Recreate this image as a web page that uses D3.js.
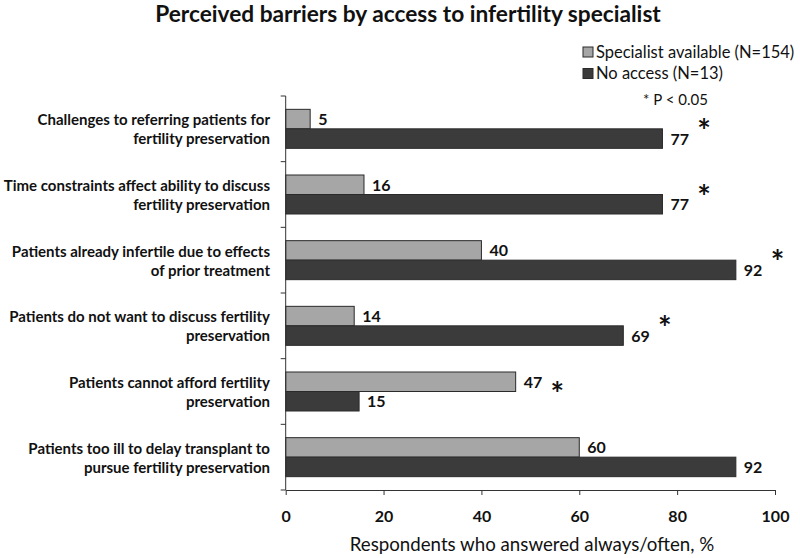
<!DOCTYPE html>
<html><head><meta charset="utf-8">
<script src="https://cdn.jsdelivr.net/npm/d3@7"></script>
<style>body{margin:0;background:#fff;} text{font-family:Lato, "Open Sans", sans-serif;}</style>
</head><body><svg id="c" width="800" height="558"></svg>
<script>
const categories = [
  ["Challenges to referring patients for", "fertility preservation"],
  ["Time constraints affect ability to discuss", "fertility preservation"],
  ["Patients already infertile due to effects", "of prior treatment"],
  ["Patients do not want to discuss fertility", "preservation"],
  ["Patients cannot afford fertility", "preservation"],
  ["Patients too ill to delay transplant to", "pursue fertility preservation"]
];
const specialistAvailable = [5, 16, 40, 14, 47, 60];
const noAccess = [77, 77, 92, 69, 15, 92];
const significant = [true, true, true, true, true, false];
const seriesNames = ["Specialist available (N=154)", "No access (N=13)"];
const xTicks = [0, 20, 40, 60, 80, 100];

(function(){
const svg = d3.select("#c");
const pl = 285.7, pr = 775, pt = 96, pb = 490;
const x = d3.scaleLinear().domain([0, 100]).range([pl, pr]);
const y = d3.scaleBand().domain(d3.range(categories.length)).range([pt, pb]).paddingInner(0).paddingOuter(0);
const colors = ["#a6a6a6", "#3b3b3b"];
const barH = 19.5;

svg.append("text").attr("x", 408).attr("y", 22).attr("text-anchor", "middle")
  .style("font-size", "22.7px").style("font-weight", "bold").attr("fill", "#111")
  .text("Perceived barriers by access to infertility specialist");

const series = [specialistAvailable, noAccess];
series.forEach((vals, si) => {
  const g = svg.append("g");
  g.selectAll("rect").data(vals).enter().append("rect")
    .attr("x", x(0))
    .attr("y", (d, i) => y(i) + y.bandwidth() / 2 - barH + si * barH)
    .attr("width", d => x(d) - x(0))
    .attr("height", barH)
    .attr("fill", colors[si]).attr("stroke", "#2a2a2a").attr("stroke-width", 1);
  g.selectAll("text").data(vals).enter().append("text")
    .attr("x", d => x(d) + 8)
    .attr("y", (d, i) => y(i) + y.bandwidth() / 2 - barH + si * barH + barH / 2 + 6)
    .style("font-size", "16px").style("font-weight", "bold").attr("fill", "#111")
    .text(d => d);
});

svg.append("g").selectAll("text").data(significant.map((s, i) => ({s, i})).filter(d => d.s)).enter()
  .append("text")
  .attr("x", d => x(Math.max(specialistAvailable[d.i], noAccess[d.i]) + 8.5))
  .attr("y", d => y(d.i) + y.bandwidth() / 2 + 14)
  .attr("text-anchor", "middle")
  .style("font-size", "32px").style("font-weight", "bold").attr("fill", "#111")
  .text("*");

const yAxis = svg.append("g").attr("transform", `translate(${pl},0)`);
yAxis.append("line").attr("x1", 0).attr("x2", 0).attr("y1", pt).attr("y2", pb).attr("stroke", "#333");
yAxis.selectAll("line.t").data(d3.range(categories.length + 1)).enter().append("line")
  .attr("class", "t").attr("x1", -5).attr("x2", 0)
  .attr("y1", i => i < categories.length ? y(i) : pb)
  .attr("y2", i => i < categories.length ? y(i) : pb)
  .attr("stroke", "#333");

const lab = svg.append("g");
categories.forEach((lines, i) => {
  const t = lab.append("text").attr("text-anchor", "end")
    .style("font-size", "15px").style("font-weight", "bold").attr("fill", "#111");
  lines.forEach((ln, k) => {
    t.append("tspan").attr("x", 270).attr("y", y(i) + y.bandwidth() / 2 - 3.5 + k * 19).text(ln);
  });
});

const xAxis = svg.append("g").attr("transform", `translate(0,${pb})`)
  .call(d3.axisBottom(x).tickValues(xTicks).tickSize(5).tickPadding(16).tickSizeOuter(0));
xAxis.select(".domain").attr("stroke", "#333");
xAxis.selectAll(".tick line").attr("stroke", "#333");
xAxis.selectAll(".tick text").style("font-size", "16px").style("font-weight", "bold")
  .style("font-family", "Lato, sans-serif").attr("fill", "#111");

svg.append("text").attr("x", 532).attr("y", 551).attr("text-anchor", "middle")
  .style("font-size", "18.7px").attr("fill", "#111")
  .text("Respondents who answered always/often, %");

const leg = svg.append("g");
seriesNames.forEach((n, i) => {
  const yy = 52 + i * 21.5;
  leg.append("rect").attr("x", 583).attr("y", yy - 5).attr("width", 10).attr("height", 10)
    .attr("fill", colors[i]).attr("stroke", "#2a2a2a");
  leg.append("text").attr("x", 596).attr("y", yy + 5.5)
    .style("font-size", "16.5px").attr("fill", "#111").text(n);
});
leg.append("text").attr("x", 643).attr("y", 105).style("font-size", "15px").attr("fill", "#111").text("* P < 0.05");
})();
</script></body></html>
